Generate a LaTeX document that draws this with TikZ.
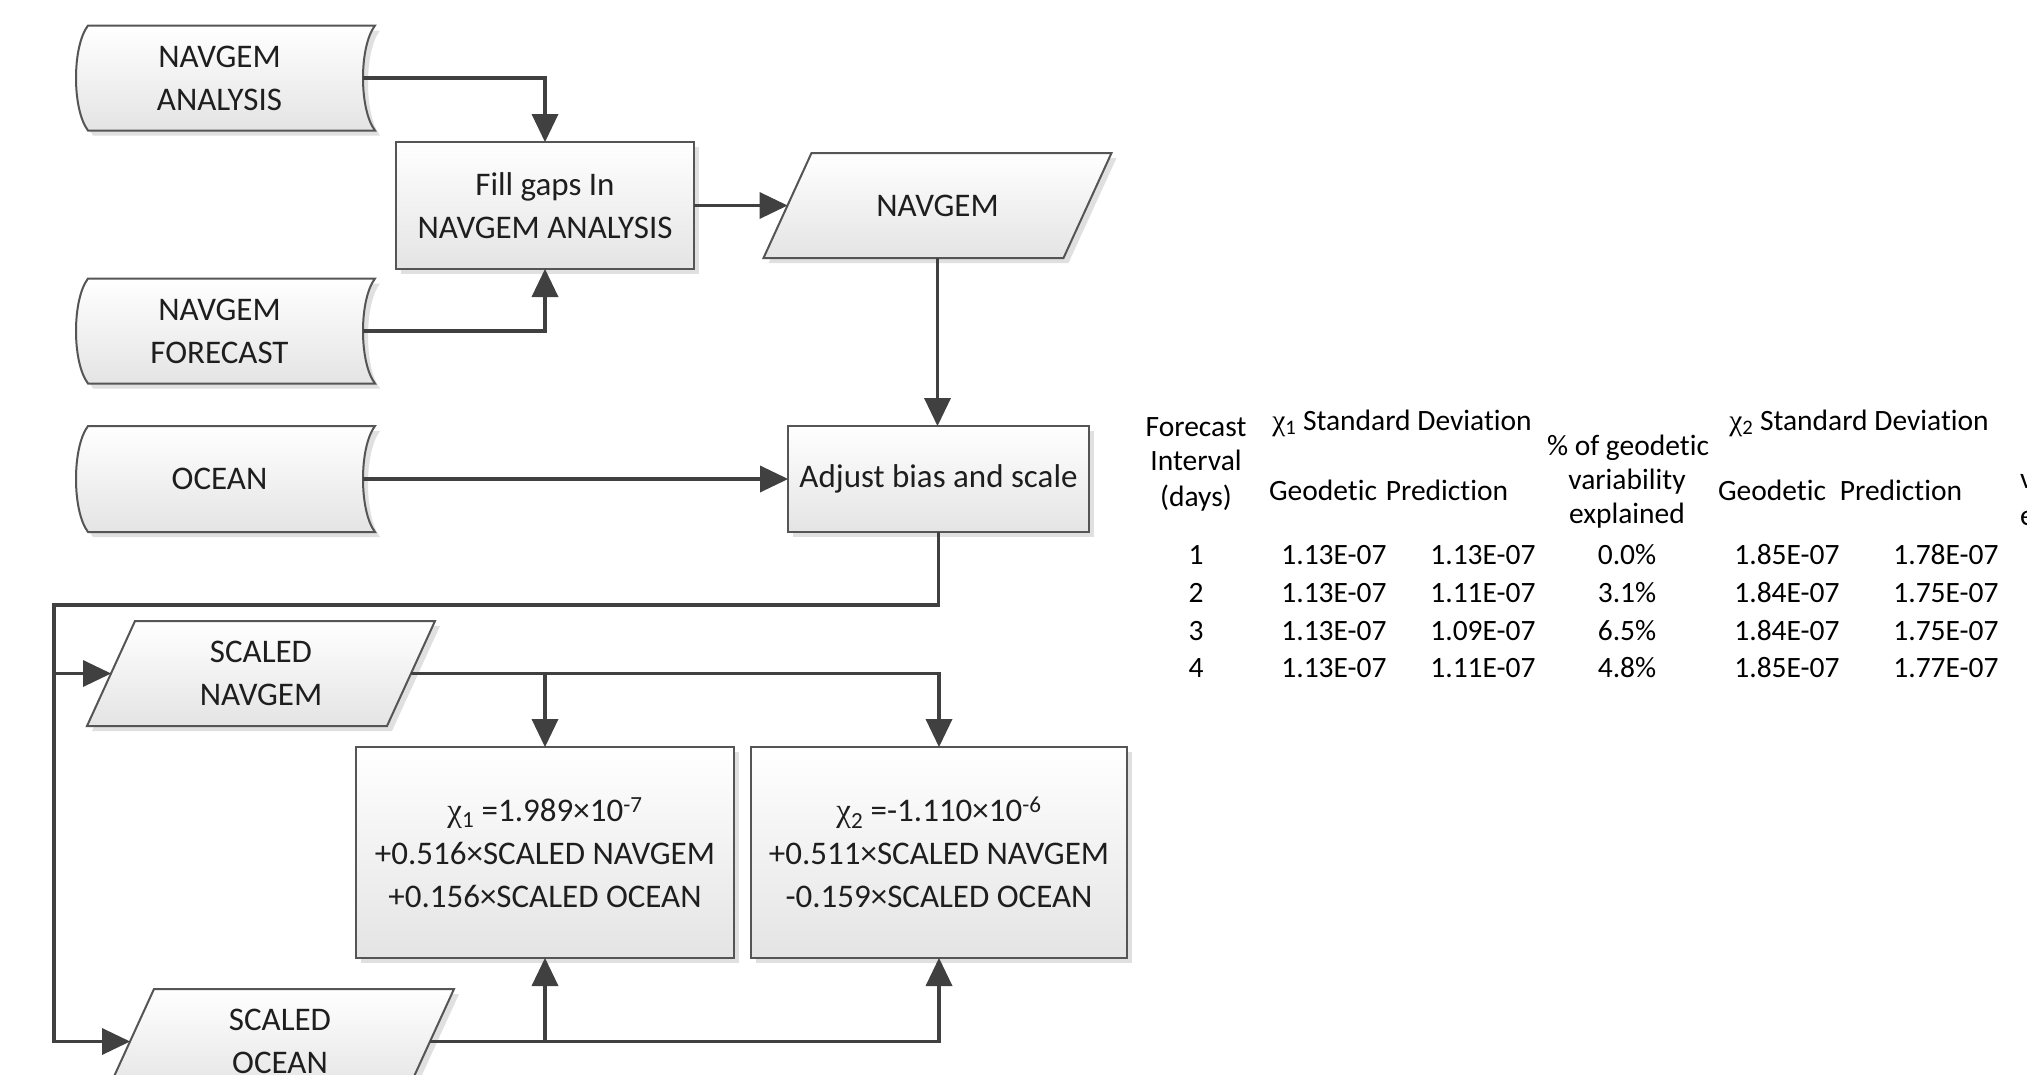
\documentclass[tikz,border=0pt]{standalone}
\usepackage{fontspec}
\setmainfont{Carlito}[Ligatures=NoCommon]
\newfontfamily\symf{Liberation Serif}
\usetikzlibrary{arrows.meta,calc,shadows,backgrounds}
\definecolor{linecol}{HTML}{404040}
\definecolor{bordercol}{HTML}{555555}
\definecolor{fillbot}{HTML}{E4E4E4}
\definecolor{txtcol}{HTML}{1E1E1E}
\newcommand\flowfont{\fontsize{33}{43}\selectfont}
\newcommand\tabfont{\fontsize{29.5}{35}\selectfont}
% stored-data outline around a named node (left side bulges out, right side bulges in)
\newcommand\stdata[1]{%
  \path[shp] ($(#1.north west)+(12,0)$) -- ($(#1.north east)+(12,0)$)
    .. controls ($(#1.north east)+(-4,21)$) and ($(#1.south east)+(-4,-21)$) .. ($(#1.south east)+(12,0)$)
    -- ($(#1.south west)+(12,0)$)
    .. controls ($(#1.south west)+(-4,-21)$) and ($(#1.north west)+(-4,21)$) .. ($(#1.north west)+(12,0)$)
    -- cycle;}
% parallelogram outline around a named node
\newcommand\para[1]{%
  \path[shp] ($(#1.north west)+(24,0)$) -- ($(#1.north east)+(24,0)$)
    -- ($(#1.south east)+(-24,0)$) -- ($(#1.south west)+(-24,0)$) -- cycle;}
\begin{document}
\begin{tikzpicture}[x=1pt,y=-1pt,
  every node/.style={inner sep=0pt,outer sep=0pt,text=txtcol},
  shp/.style={draw=bordercol,line width=2pt,top color=white,bottom color=fillbot,
     drop shadow={shadow xshift=5pt,shadow yshift=-5pt,fill=black!12,opacity=1}},
  procbox/.style={shp,rectangle,align=center,font=\flowfont},
  lbl/.style={align=center,font=\flowfont},
  conn/.style={draw=linecol,line width=3.5pt},
  arr/.style={conn,-{Triangle[length=28pt,width=27pt,line width=0pt]}},
  tab/.style={font=\tabfont,text=black,text height=0.72em,text depth=0.12em,anchor=center}]

\useasboundingbox (0,0) rectangle (2027,1074);

% ---- flowchart nodes ----
\node[lbl,minimum width=287pt,minimum height=105pt] (na) at (219.5,78) {NAVGEM\\ANALYSIS};
\node[lbl,minimum width=287pt,minimum height=105pt] (nf) at (219.5,331) {NAVGEM\\FORECAST};
\node[lbl,minimum width=287pt,minimum height=106pt] (oc) at (219.5,479) {OCEAN};
\node[lbl,minimum width=300pt,minimum height=105pt] (nv) at (937.5,205.5) {NAVGEM};
\node[lbl,minimum width=300pt,minimum height=105pt] (sn) at (261,673.5) {SCALED\\NAVGEM};
\node[lbl,minimum width=300pt,minimum height=105pt] (so) at (280,1041.5) {SCALED\\OCEAN};

\begin{pgfonlayer}{background}
  \fill[white] (0,0) rectangle (2027,1074);
  \stdata{na} \stdata{nf} \stdata{oc}
  \para{nv} \para{sn} \para{so}
\end{pgfonlayer}

\node[procbox,minimum width=298pt,minimum height=127pt] (fg) at (545,205.5) {Fill gaps In\\NAVGEM ANALYSIS};
\node[procbox,minimum width=301pt,minimum height=106pt] (adj) at (938.5,479) {Adjust bias and scale};
\node[procbox,minimum width=378pt,minimum height=211pt] (c1) at (545,852.5)
  {{\symf χ}\textsubscript{1} =1.989×10\textsuperscript{-7}\\+0.516×SCALED NAVGEM\\+0.156×SCALED OCEAN};
\node[procbox,minimum width=376pt,minimum height=211pt] (c2) at (939,852.5)
  {{\symf χ}\textsubscript{2} =-1.110×10\textsuperscript{-6}\\+0.511×SCALED NAVGEM\\-0.159×SCALED OCEAN};

% ---- connectors ----
\draw[arr] (na.east) -| (fg.north);
\draw[arr] (nf.east) -| (fg.south);
\draw[arr] (fg.east) -- (nv.west);
\draw[arr] (nv.south) -- (nv.south |- adj.north);
\draw[arr] (oc.east) -- (adj.west);
\coordinate (fb) at (54,605);
\draw[arr] (adj.south) |- (fb) |- (so.west);
\draw[arr] (fb |- sn.west) -- (sn.west);
\draw[arr] (sn.east) -| (c2.north);
\draw[arr] (sn.east -| c1.north) -- (c1.north);
\draw[arr] (so.east) -| (c2.south);
\draw[arr] (so.east -| c1.south) -- (c1.south);

% ---- table ----
\node[tab] (h1a) at (1196,433) {Forecast};
\node[tab] (h1b) at (1196,467) {Interval};
\node[tab] (h1c) at (1196,503) {(days)};
\node[tab] (h2) at (1402,427) {{\symf χ}\textsubscript{1} Standard Deviation};
\node[tab] (h2a) at (1323,497) {Geodetic};
\node[tab] (h2b) at (1447,497) {Prediction};
\node[tab] (h3a) at (1628,452) {\% of geodetic};
\node[tab] (h3b) at (1627,486) {variability};
\node[tab] (h3c) at (1627,520) {explained};
\node[tab] (h4) at (1859,427) {{\symf χ}\textsubscript{2} Standard Deviation};
\node[tab] (h4a) at (1772,497) {Geodetic};
\node[tab] (h4b) at (1901,497) {Prediction};
\node[tab,anchor=west] (h5a) at (2020,485) {variability};
\node[tab,anchor=west] (h5b) at (2020,522) {explained};

\foreach \r/\y/\ca/\cb/\cc/\cd/\ce in {
  1/561/1.13E-07/1.13E-07/0.0\%/1.85E-07/1.78E-07,
  2/599/1.13E-07/1.11E-07/3.1\%/1.84E-07/1.75E-07,
  3/637/1.13E-07/1.09E-07/6.5\%/1.84E-07/1.75E-07,
  4/674/1.13E-07/1.11E-07/4.8\%/1.85E-07/1.77E-07}{
  \node[tab] (r\r a) at (1196,\y) {\r};
  \node[tab] (r\r b) at (1334,\y) {\ca};
  \node[tab] (r\r c) at (1483,\y) {\cb};
  \node[tab] (r\r d) at (1627,\y) {\cc};
  \node[tab] (r\r e) at (1787,\y) {\cd};
  \node[tab] (r\r f) at (1946,\y) {\ce};
}
\end{tikzpicture}
\end{document}
